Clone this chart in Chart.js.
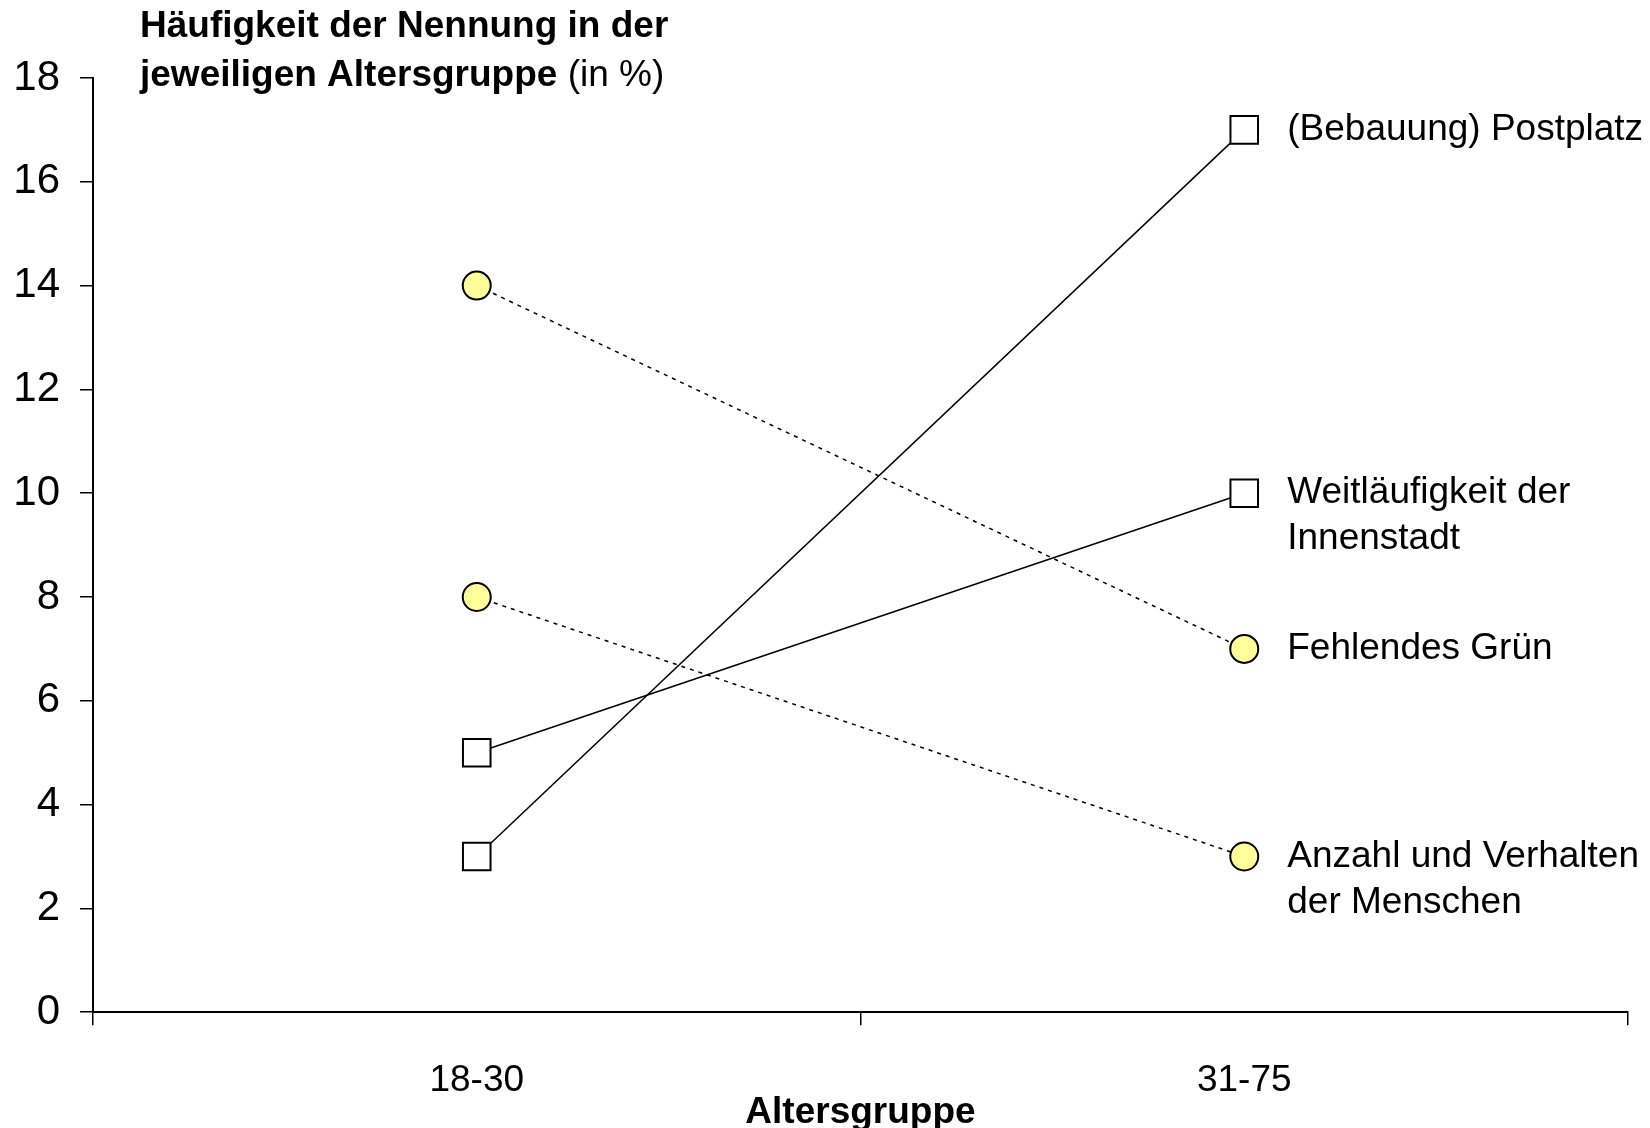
<!DOCTYPE html>
<html lang="de">
<head>
<meta charset="utf-8">
<title>Häufigkeit der Nennung nach Altersgruppe</title>
<script src="https://cdn.jsdelivr.net/npm/chart.js@4.4.1/dist/chart.umd.min.js"></script>
<style>
    html, body { margin: 0; padding: 0; background: #fff; }
    #wrap { width: 1650px; height: 1128px; position: relative; }
</style>
</head>
<body>
<div id="wrap"><canvas id="ageChart"></canvas></div>
<script>
// Datos del gráfico
const ageGroups = ['18-30', '31-75'];
const postplatzValues = [3, 17];
const weitlaeufigkeitValues = [5, 10];
const gruenValues = [14, 7];
const menschenValues = [8, 3];
const seriesLabels = [
    ['(Bebauung) Postplatz'],
    ['Weitläufigkeit der', 'Innenstadt'],
    ['Fehlendes Grün'],
    ['Anzahl und Verhalten', 'der Menschen']
];
const yTicks = [0, 2, 4, 6, 8, 10, 12, 14, 16, 18];

const FONT = '"Liberation Sans", Arial, Helvetica, sans-serif';
const FONT_SIZE = 37;

document.addEventListener('DOMContentLoaded', () => {
    const ctx = document.getElementById('ageChart').getContext('2d');

    // etiquetas a la derecha de cada serie, junto al último punto
    const endLabelsPlugin = {
        id: 'endLabels',
        afterDatasetsDraw(chart) {
            const c = chart.ctx;
            c.save();
            c.font = `${FONT_SIZE}px ${FONT}`;
            c.fillStyle = '#000';
            c.textAlign = 'left';
            c.textBaseline = 'middle';
            chart.data.datasets.forEach((ds, i) => {
                const pt = chart.getDatasetMeta(i).data[ds.data.length - 1];
                seriesLabels[i].forEach((line, j) => {
                    c.fillText(line, pt.x + 43, pt.y + j * 46);
                });
            });
            c.restore();
        }
    };

    // título del eje Y, horizontal arriba a la izquierda
    const yTitlePlugin = {
        id: 'yTitle',
        afterDraw(chart) {
            const c = chart.ctx;
            c.save();
            c.fillStyle = '#000';
            c.textAlign = 'left';
            c.textBaseline = 'middle';
            c.font = `bold ${FONT_SIZE}px ${FONT}`;
            c.fillText('Häufigkeit der Nennung in der', 140, 27);
            const part = 'jeweiligen Altersgruppe';
            c.fillText(part, 140, 76);
            const w = c.measureText(part).width;
            c.font = `${FONT_SIZE}px ${FONT}`;
            c.fillText(' (in %)', 140 + w, 76);
            c.restore();
        }
    };

    const solid = { borderColor: '#000', borderWidth: 1.5, pointStyle: 'rect', pointRadius: 19.5, pointHoverRadius: 19.5,
        pointBackgroundColor: '#fff', pointBorderColor: '#000', pointBorderWidth: 2 };
    const dotted = { borderColor: '#000', borderWidth: 1.5, borderDash: [4, 5], pointStyle: 'circle', pointRadius: 14,
        pointHoverRadius: 14, pointBackgroundColor: '#ffff99', pointBorderColor: '#000', pointBorderWidth: 2 };

    new Chart(ctx, {
        type: 'line',
        data: {
            labels: ageGroups,
            datasets: [
                { label: seriesLabels[0].join(' '), data: postplatzValues, ...solid },
                { label: seriesLabels[1].join(' '), data: weitlaeufigkeitValues, ...solid },
                { label: seriesLabels[2].join(' '), data: gruenValues, ...dotted },
                { label: seriesLabels[3].join(' '), data: menschenValues, ...dotted }
            ]
        },
        options: {
            responsive: true,
            maintainAspectRatio: false,
            animation: false,
            layout: { padding: { top: 78, right: 22, left: 12, bottom: 0 } },
            plugins: { legend: { display: false }, tooltip: { enabled: false } },
            scales: {
                x: {
                    offset: true,
                    grid: { offset: true, drawOnChartArea: false, drawTicks: true, tickLength: 13, color: '#000', lineWidth: 1.5 },
                    border: { color: '#000', width: 2 },
                    ticks: { color: '#000', padding: 33, font: { family: FONT, size: FONT_SIZE } },
                    title: { display: true, text: 'Altersgruppe', color: '#000', padding: { top: -45, bottom: -7 },
                        font: { family: FONT, size: FONT_SIZE, weight: 'bold' } }
                },
                y: {
                    min: 0,
                    max: 18,
                    afterBuildTicks: axis => { axis.ticks = yTicks.map(v => ({ value: v })); },
                    afterFit: axis => { axis.width = 81; },
                    grid: { drawOnChartArea: false, drawTicks: true, tickLength: 13, color: '#000', lineWidth: 1.5 },
                    border: { color: '#000', width: 2 },
                    ticks: { color: '#000', padding: 20, font: { family: FONT, size: 42 } }
                }
            }
        },
        plugins: [endLabelsPlugin, yTitlePlugin]
    });
});
</script>
</body>
</html>
